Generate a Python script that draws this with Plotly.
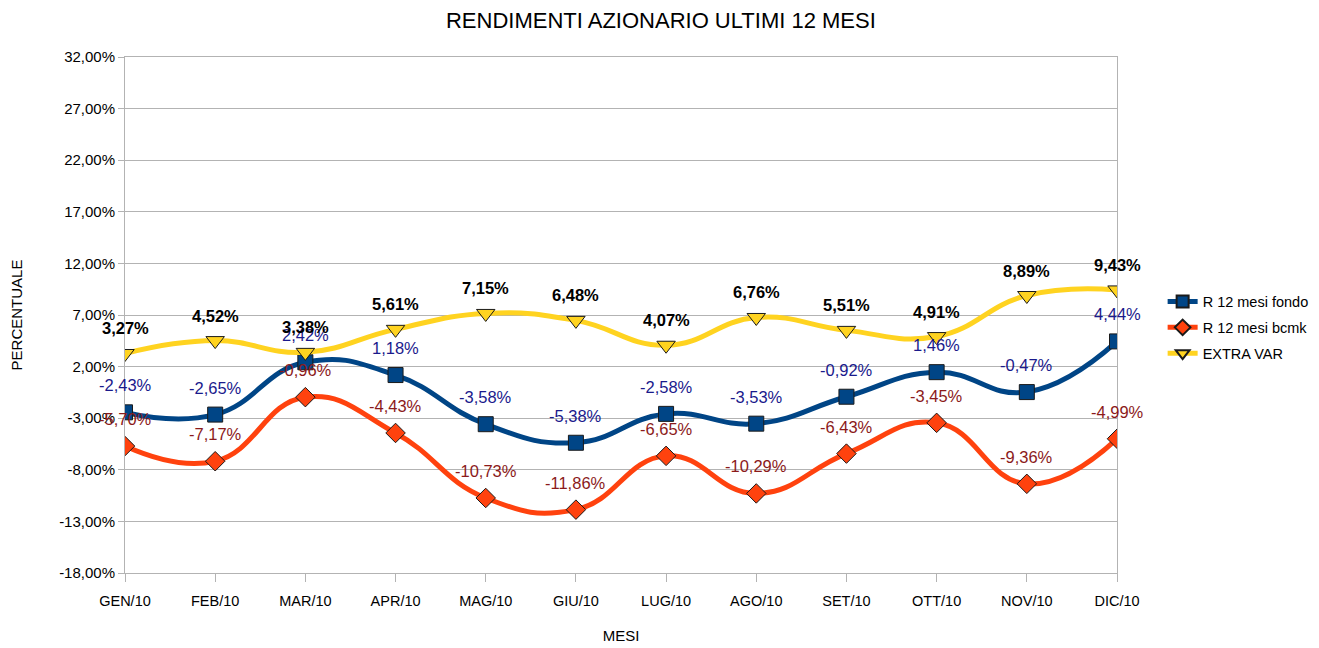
import plotly.graph_objects as go

months = ["GEN/10", "FEB/10", "MAR/10", "APR/10", "MAG/10", "GIU/10",
          "LUG/10", "AGO/10", "SET/10", "OTT/10", "NOV/10", "DIC/10"]
fondo = [-2.43, -2.65, 2.42, 1.18, -3.58, -5.38, -2.58, -3.53, -0.92, 1.46, -0.47, 4.44]
bcmk = [-5.70, -7.17, -0.96, -4.43, -10.73, -11.86, -6.65, -10.29, -6.43, -3.45, -9.36, -4.99]
extra = [3.27, 4.52, 3.38, 5.61, 7.15, 6.48, 4.07, 6.76, 5.51, 4.91, 8.89, 9.43]
yticks = [32, 27, 22, 17, 12, 7, 2, -3, -8, -13, -18]

FONT = "Liberation Sans, Arial, sans-serif"
x = list(range(len(months)))

def fmt(v):
    return ("%.2f" % v).replace(".", ",") + "%"

fig = go.Figure()
fig.add_trace(go.Scatter(
    x=x, y=fondo, name="R 12 mesi fondo", mode="lines+markers", legendgroup="a",
    line=dict(color="#004586", width=5, shape="spline", smoothing=1.3),
    marker=dict(symbol="square", size=15, color="#004586", line=dict(color="#1a1a1a", width=1))))
fig.add_trace(go.Scatter(
    x=x, y=bcmk, name="R 12 mesi bcmk", mode="lines+markers", legendgroup="b",
    line=dict(color="#ff420e", width=5, shape="spline", smoothing=1.3),
    marker=dict(symbol="diamond", size=15, color="#ff420e", line=dict(color="#1a1a1a", width=1))))
fig.add_trace(go.Scatter(
    x=x, y=extra, name="EXTRA VAR", mode="lines+markers", legendgroup="c",
    line=dict(color="#ffd320", width=5, shape="spline", smoothing=1.3),
    marker=dict(symbol="triangle-down", size=16, color="#ffd320", line=dict(color="#1a1a1a", width=1))))

annotations = []
for xi, v in zip(x, fondo):
    annotations.append(dict(x=xi, y=v, text=fmt(v), showarrow=False, yshift=27,
                            font=dict(family=FONT, size=16.5, color="#1a1a8c")))
for xi, v in zip(x, bcmk):
    annotations.append(dict(x=xi, y=v, text=fmt(v), showarrow=False, yshift=27,
                            font=dict(family=FONT, size=16.5, color="#8b1a1a")))
for xi, v in zip(x, extra):
    annotations.append(dict(x=xi, y=v, text="<b>" + fmt(v) + "</b>", showarrow=False, yshift=25,
                            font=dict(family=FONT, size=16.5, color="#000000")))

fig.update_layout(
    width=1319, height=648,
    margin=dict(l=117, r=210, t=49, b=83, autoexpand=False),
    paper_bgcolor="white", plot_bgcolor="white",
    font=dict(family=FONT, size=13, color="#000000"),
    title=dict(text="RENDIMENTI AZIONARIO ULTIMI 12 MESI", x=0.495, xanchor="center",
               y=0.981, yanchor="middle", automargin=False,
               font=dict(family=FONT, size=22, color="#000000")),
    showlegend=True,
    legend=dict(x=1.046, y=0.557, xanchor="left", yanchor="top",
                traceorder="grouped", tracegroupgap=4,
                font=dict(family=FONT, size=14.5, color="#000000"),
                itemwidth=30, itemsizing="constant", bgcolor="rgba(0,0,0,0)"),
    annotations=annotations,
)
fig.update_xaxes(
    range=[0, len(months) - 1], tickvals=x, ticktext=months, automargin=False,
    showgrid=False, showline=True, linecolor="#b3b3b3", mirror=True,
    ticks="outside", ticklen=8, tickcolor="#b3b3b3", ticklabelstandoff=7,
    tickfont=dict(family=FONT, size=14.5), zeroline=False,
    title=dict(text="MESI", font=dict(family=FONT, size=15), standoff=22))
fig.update_yaxes(
    range=[-18, 32], tickvals=yticks, ticktext=[fmt(t) for t in yticks], automargin=False,
    showgrid=True, gridcolor="#b3b3b3", gridwidth=1,
    showline=True, linecolor="#b3b3b3", mirror=True,
    ticks="outside", ticklen=6, tickcolor="#b3b3b3",
    tickfont=dict(family=FONT, size=15), zeroline=False,
    title=dict(text="PERCENTUALE", font=dict(family=FONT, size=15), standoff=40))

fig.write_html("out.html")
